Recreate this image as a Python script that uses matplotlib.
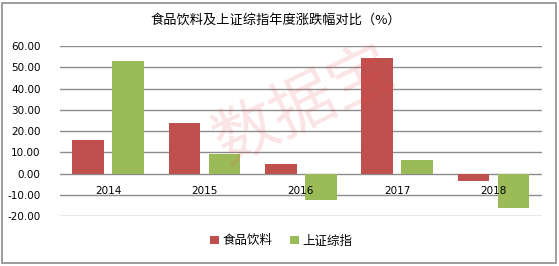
import numpy as np
import matplotlib
matplotlib.use('Agg')
import matplotlib.pyplot as plt
from matplotlib.patches import Rectangle

plt.rcParams['font.family'] = ['Noto Sans CJK SC', 'DejaVu Sans']

years = ['2014', '2015', '2016', '2017', '2018']
food = [15.8, 23.8, 4.5, 54.5, -3.5]      # 食品饮料
sh_index = [53.1, 9.2, -12.5, 6.4, -16.3]  # 上证综指
yticks = [-20, -10, 0, 10, 20, 30, 40, 50, 60]

red = '#C0504D'
green = '#9BBB59'
grid = '#8c8c8c'

fig = plt.figure(figsize=(5.59, 2.66), dpi=100)
ax = fig.add_axes([0.1073, 0.188, 0.8617, 0.638])

x = np.arange(len(years))
w = 0.33
ax.bar(x - 0.208, food, w, color=red, label='食品饮料', zorder=3)
ax.bar(x + 0.208, sh_index, w, color=green, label='上证综指', zorder=3)

ax.set_xlim(-0.5, len(years) - 0.5)
ax.set_ylim(-20, 60)
ax.set_yticks(yticks)
ax.set_yticklabels(['%.2f' % v for v in yticks])
ax.yaxis.grid(True, color=grid, lw=1.0, zorder=0)
ax.tick_params(axis='y', length=0, pad=14, labelsize=7.5, labelfontfamily='DejaVu Sans')

ax.set_xticks(x)
ax.set_xticklabels(years)
ax.spines['bottom'].set_position(('data', 0))
for s in ['top', 'right', 'left', 'bottom']:
    ax.spines[s].set_visible(False)
ax.tick_params(axis='x', length=0, pad=9, labelsize=7.5, labelfontfamily='DejaVu Sans')
ax.xaxis.set_zorder(5)

fig.text(0.494, 0.925, '食品饮料及上证综指年度涨跌幅对比（%）', ha='center', va='center', fontsize=9.5)

# watermark
fig.text(0.545, 0.6, '数据宝', ha='center', va='center', fontsize=46, rotation=26,
         color='#e8474c', alpha=0.15, zorder=10)

leg = fig.legend(loc='center', bbox_to_anchor=(0.503, 0.094), ncol=2, frameon=False,
                 fontsize=9, handlelength=0.7, handleheight=0.7, handletextpad=0.3,
                 columnspacing=1.4)

fig.patches.append(Rectangle((0.004, 0.01), 0.99, 0.98, transform=fig.transFigure,
                             fill=False, ec='#8c8c8c', lw=1.2))

plt.savefig('out.png', dpi=100)
